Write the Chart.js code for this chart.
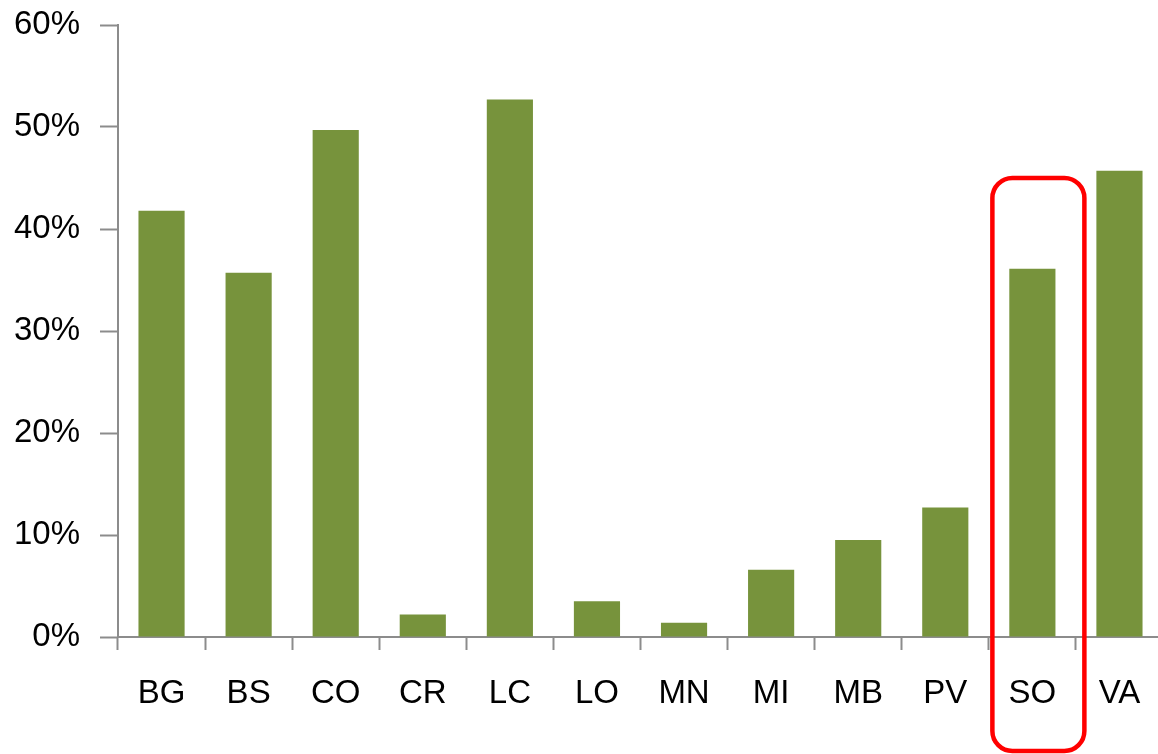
<!DOCTYPE html>
<html>
<head>
<meta charset="utf-8">
<script src="https://cdn.jsdelivr.net/npm/chart.js@4"></script>
<style>
  html, body { margin: 0; padding: 0; background: #fff; overflow: hidden; }
  #wrap { width: 1166px; height: 754px; }
</style>
</head>
<body>
<div id="wrap"><canvas id="shareChart"></canvas></div>
<script>
const categories = ['BG', 'BS', 'CO', 'CR', 'LC', 'LO', 'MN', 'MI', 'MB', 'PV', 'SO', 'VA'];
const shares = [41.8, 35.7, 49.7, 2.2, 52.7, 3.5, 1.4, 6.6, 9.5, 12.7, 36.1, 45.7];
const yTicks = [0, 10, 20, 30, 40, 50, 60];
const highlighted = 'SO';

const axisColor = '#8c8c8c';
const labelFont = { family: '"Liberation Sans", Arial, sans-serif', size: 33 };

// rounded red box around the highlighted category
const highlightBox = {
  id: 'highlightBox',
  afterDatasetsDraw(chart) {
    const { ctx, scales } = chart;
    const idx = categories.indexOf(highlighted);
    const cx = scales.x.getPixelForValue(idx);
    const left = cx - 40;
    const right = cx + 52;
    const top = scales.y.getPixelForValue(45);
    const bottom = chart.height - 3;
    ctx.save();
    ctx.strokeStyle = '#ff0000';
    ctx.lineWidth = 4.5;
    ctx.beginPath();
    ctx.roundRect(left, top, right - left, bottom - top, 20);
    ctx.stroke();
    ctx.restore();
  },
};

new Chart(document.getElementById('shareChart'), {
  type: 'bar',
  data: {
    labels: categories,
    datasets: [
      {
        data: shares,
        backgroundColor: '#77933c',
        borderWidth: 0,
        barPercentage: 0.53,
        categoryPercentage: 1,
      },
    ],
  },
  options: {
    responsive: true,
    maintainAspectRatio: false,
    animation: false,
    layout: { padding: { top: 25, right: 3, left: 0, bottom: 0 } },
    plugins: {
      legend: { display: false },
      tooltip: { enabled: false },
    },
    scales: {
      x: {
        grid: {
          display: true,
          drawOnChartArea: false,
          drawTicks: true,
          tickLength: 13,
          tickColor: axisColor,
          tickWidth: 2,
          offset: true,
        },
        border: { display: true, color: axisColor, width: 2 },
        ticks: { color: '#000', font: labelFont, padding: 24, maxRotation: 0 },
        afterFit(scale) {
          scale.height = 117;
          scale.paddingLeft = 0;
          scale.paddingRight = 0;
        },
      },
      y: {
        min: 0,
        max: 60,
        afterBuildTicks(scale) { scale.ticks = yTicks.map((v) => ({ value: v })); },
        grid: {
          display: true,
          drawOnChartArea: false,
          drawTicks: true,
          tickLength: 18,
          tickColor: axisColor,
          tickWidth: 2,
        },
        border: { display: true, color: axisColor, width: 2 },
        ticks: {
          color: '#000',
          font: labelFont,
          padding: 20,
          callback: (v) => `${v}%`,
        },
        afterFit(scale) {
          scale.width = 118;
          scale.paddingTop = 0;
          scale.paddingBottom = 0;
        },
      },
    },
  },
  plugins: [highlightBox],
});
</script>
</body>
</html>
